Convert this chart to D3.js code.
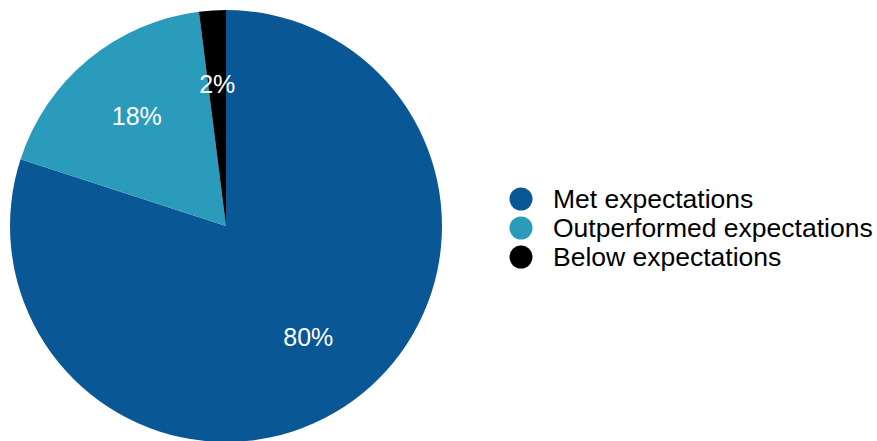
<!DOCTYPE html>
<html><head><meta charset="utf-8">
<script src="https://cdn.jsdelivr.net/npm/d3@7"></script>
<style>body{margin:0;background:#fff}svg{display:block}</style>
</head><body>
<script>
const categories = ["Met expectations", "Outperformed expectations", "Below expectations"];
const values = [80, 18, 2];
const colors = ["#0a5796", "#2a9bba", "#000000"];

const W = 877, H = 441;
const svg = d3.select("body").append("svg").attr("width", W).attr("height", H);
const cx = 226, cy = 226, R = 216;

const data = categories.map((c, i) => ({name: c, value: values[i], color: colors[i]}));
const pie = d3.pie().value(d => d.value).sort(null);
const arc = d3.arc().innerRadius(0).outerRadius(R);
const labelArc = d3.arc().innerRadius(140).outerRadius(140);

const g = svg.append("g").attr("transform", `translate(${cx},${cy})`);
const arcs = pie(data);
g.selectAll("path").data(arcs).join("path")
  .attr("d", arc).attr("fill", d => d.data.color);
g.selectAll("text").data(arcs).join("text")
  .attr("transform", d => `translate(${labelArc.centroid(d)})`)
  .attr("text-anchor", "middle").attr("dy", "0.26em")
  .attr("fill", "#fff").attr("font-family", "Liberation Sans, Arial, sans-serif")
  .attr("font-size", 25)
  .text(d => d.data.value + "%");

const lg = svg.append("g").attr("transform", "translate(521,199)");
const item = lg.selectAll("g").data(data).join("g")
  .attr("transform", (d, i) => `translate(0,${i * 29})`);
item.append("circle").attr("r", 11.5).attr("fill", d => d.color);
item.append("text").attr("x", 32).attr("dy", "0.33em")
  .attr("font-family", "Liberation Sans, Arial, sans-serif").attr("font-size", 26.5)
  .attr("fill", "#000").text(d => d.name);
</script>
</body></html>
